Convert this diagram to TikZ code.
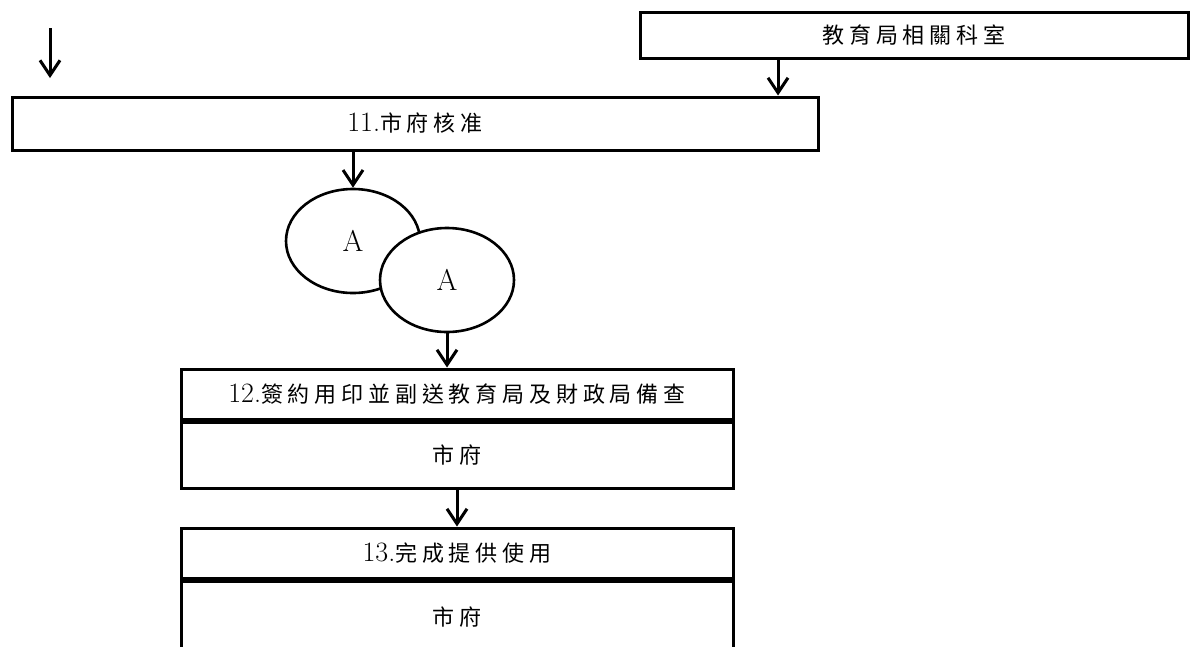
\documentclass[tikz,border=0pt]{standalone}
\usepackage{fontspec}
\usepackage{tikz}
\usetikzlibrary{shapes.geometric,arrows.meta}
\newfontfamily\cjk[LetterSpace=22]{Noto Sans CJK TC}
\newcommand{\stepno}[1]{{\fontsize{28}{30}\selectfont #1}}

\begin{document}
\begin{tikzpicture}[x=1pt,y=-1pt,
  box/.style={draw,line width=3pt,rectangle,inner sep=0pt,
    font=\fontsize{22}{26}\selectfont},
  oval/.style={draw,line width=2.6pt,ellipse,fill=white,inner sep=0pt,
    minimum width=134pt,minimum height=104pt,font=\fontsize{30}{32}\selectfont},
  flow/.style={line width=3pt,-{Straight Barb[length=15pt,width=20pt,line width=3pt]}}]
  \useasboundingbox (0,0) rectangle (1204,646);
   \coordinate (In) at (50,28);
   \coordinate (InEnd) at (50,78);
   \coordinate (EduOut) at (778,58);
  % upper boxes
  \node[box,minimum width=548pt,minimum height=46pt] (Edu) at (914,35) {\cjk 教育局相關科室};
  \node[box,minimum width=806pt,minimum height=53pt] (Eleven) at (415,123.5) {\stepno{11.}\cjk 市府核准};
  % connector circles
  \node[oval] (Aone) at (353,241) {A};
  \node[oval] (Atwo) at (447,280) {A};
  % lower boxes
  \node[box,minimum width=552pt,minimum height=50pt] (Twelve) at (457,394) {\stepno{12.}\cjk 簽約用印並副送教育局及財政局備查};
  \node[box,minimum width=552pt,minimum height=66pt,anchor=north] (TwelveBy) at (Twelve.south) {\cjk 市府};
  \node[box,minimum width=552pt,minimum height=50pt] (Thirteen) at (457,553) {\stepno{13.}\cjk 完成提供使用};
  \node[box,minimum width=552pt,minimum height=72pt,anchor=north] (ThirteenBy) at (Thirteen.south) {\cjk 市府};
  % arrows
  \draw[flow] (In) -- (InEnd);
  \draw[flow] (EduOut) -- (EduOut |- Eleven.north);
  \draw[flow] (Aone.north |- Eleven.south) -- (Aone.north);
  \draw[flow] (Atwo.south) -- (Atwo.south |- Twelve.north);
  \draw[flow] (TwelveBy.south) -- (Thirteen.north);
\end{tikzpicture}
\end{document}
